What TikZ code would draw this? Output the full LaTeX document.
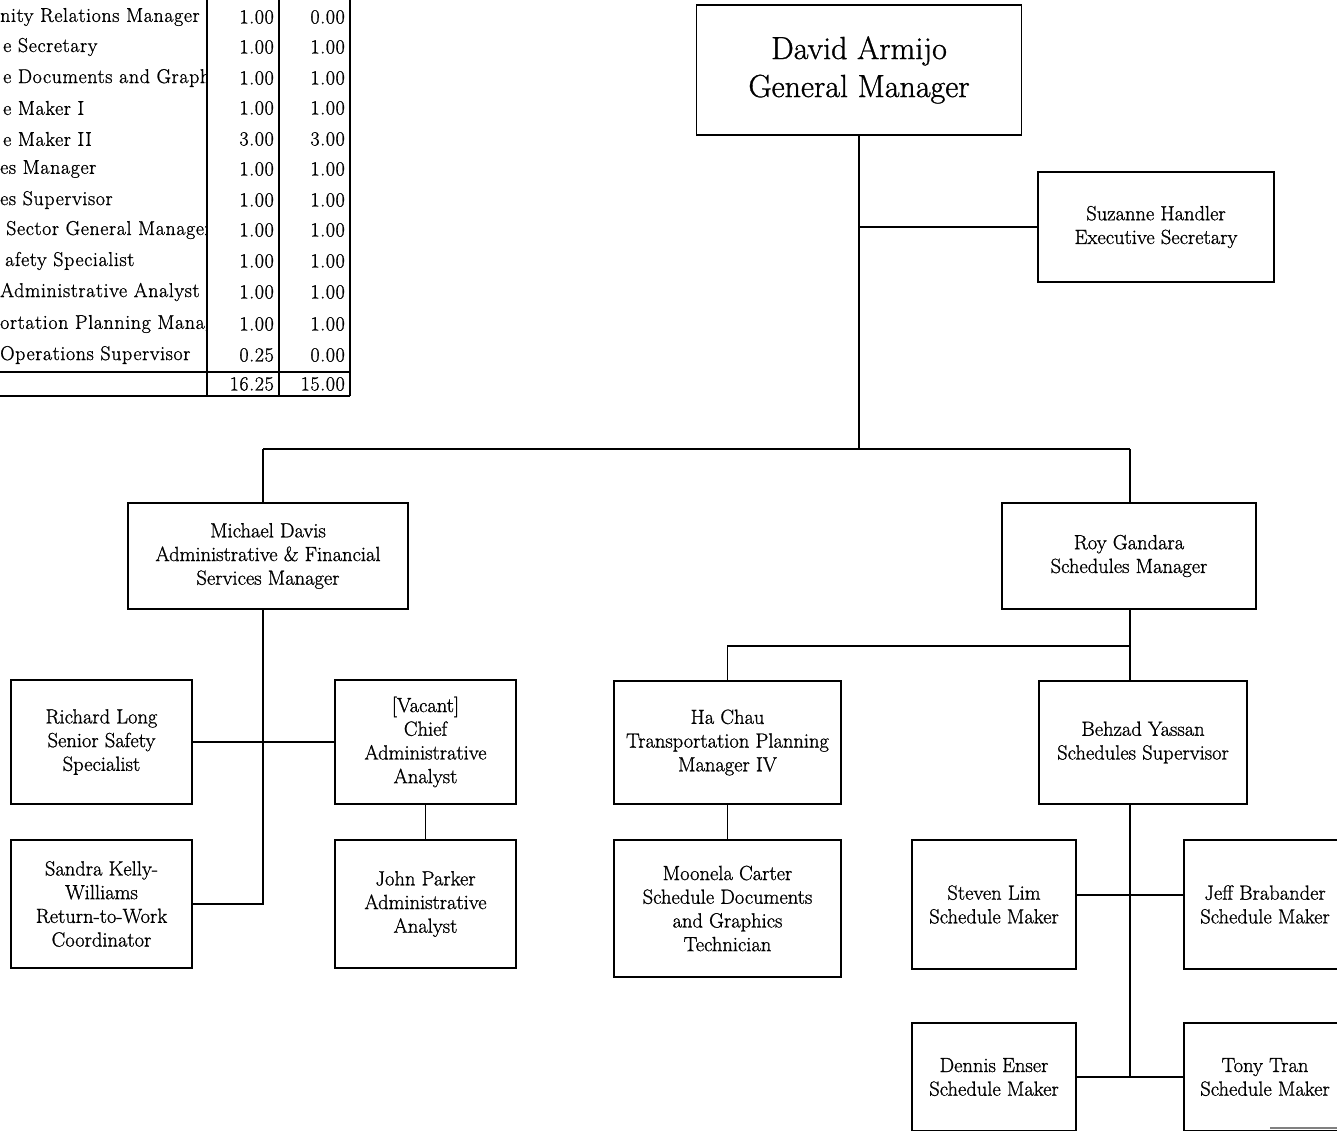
\documentclass[tikz,border=0pt]{standalone}
\usepackage{fontspec}
\setmainfont{Latin Modern Roman}[FakeBold=1]
\newfontfamily\tablefont{Latin Modern Roman}[FakeBold=1,LetterSpace=3]
\begin{document}
\begin{tikzpicture}[x=1pt,y=-1pt,
  ln/.style={line width=1.7pt},
  box/.style={draw,line width=1.7pt,align=center,inner sep=0pt,font=\fontsize{20.5}{23.7}\selectfont},
  tcell/.style={inner sep=0pt,font=\tablefont\fontsize{20}{23}\selectfont},
  big/.style={font=\fontsize{32}{38}\selectfont}]
\path[use as bounding box,clip] (0,0) rectangle (1337,1130);
\fill[white] (0,0) rectangle (1337,1130);

% ---- table ----
\draw[ln] (207,0) -- (207,396);
\draw[ln] (279,0) -- (279,396);
\draw[ln] (350,0) -- (350,396);
\draw[ln] (0,372) -- (350,372);
\draw[ln] (0,396) -- (350,396);
\begin{scope}
\clip (0,0) rectangle (206,372);
\node[tcell,anchor=west] (t1) at (0,17) {nity Relations Manager};
\node[tcell,anchor=west] (t2) at (3,47) {e Secretary};
\node[tcell,anchor=west] (t3) at (3,78) {e Documents and Graphics};
\node[tcell,anchor=west] (t4) at (3,108) {e Maker I};
\node[tcell,anchor=west] (t5) at (3,139) {e Maker II};
\node[tcell,anchor=west] (t6) at (0,169) {es Manager};
\node[tcell,anchor=west] (t7) at (0,200) {es Supervisor};
\node[tcell,anchor=west] (t8) at (6,230) {Sector General Manager};
\node[tcell,anchor=west] (t9) at (5,261) {afety Specialist};
\node[tcell,anchor=west] (t10) at (0,292) {Administrative Analyst};
\node[tcell,anchor=west] (t11) at (0,324) {ortation Planning Manager};
\node[tcell,anchor=west] (t12) at (0,355) {Operations Supervisor};
\end{scope}
\foreach \y/\a/\b [count=\i] in {17/1.00/0.00,47/1.00/1.00,78/1.00/1.00,108/1.00/1.00,139/3.00/3.00,169/1.00/1.00,200/1.00/1.00,230/1.00/1.00,261/1.00/1.00,292/1.00/1.00,324/1.00/1.00,355/0.25/0.00,384/16.25/15.00}{
  \node[tcell,anchor=east] (a\i) at (274,\y) {\a};
  \node[tcell,anchor=east] (b\i) at (345,\y) {\b};
}

% ---- boxes ----
\node[box,big,minimum width=325pt,minimum height=130pt] (gm) at (859,70) {David Armijo\\General Manager};
\node[box,minimum width=236pt,minimum height=110pt] (suz) at (1156,227) {Suzanne Handler\\Executive Secretary};
\node[box,minimum width=280pt,minimum height=106pt] (mich) at (268,556) {Michael Davis\\Administrative \& Financial\\Services Manager};
\node[box,minimum width=254pt,minimum height=106pt] (roy) at (1129,556) {Roy Gandara\\Schedules Manager};
\node[box,minimum width=181pt,minimum height=124pt] (rich) at (101.5,742) {Richard Long\\Senior Safety\\Specialist};
\node[box,minimum width=181pt,minimum height=124pt] (vac) at (425.5,742) {[Vacant]\\Chief\\Administrative\\Analyst};
\node[box,minimum width=181pt,minimum height=128pt] (sandra) at (101.5,904) {Sandra Kelly-\\Williams\\Return-to-Work\\Coordinator};
\node[box,minimum width=181pt,minimum height=128pt] (john) at (425.5,904) {John Parker\\Administrative\\Analyst};
\node[box,minimum width=227pt,minimum height=123pt] (ha) at (727.5,742.5) {Ha Chau\\Transportation Planning\\Manager IV};
\node[box,minimum width=227pt,minimum height=137pt] (moon) at (727.5,908.5) {Moonela Carter\\Schedule Documents\\and Graphics\\Technician};
\node[box,minimum width=208pt,minimum height=123pt] (beh) at (1143,742.5) {Behzad Yassan\\Schedules Supervisor};
\node[box,minimum width=164pt,minimum height=129pt] (steven) at (994,904.5) {Steven Lim\\Schedule Maker};
\node[box,minimum width=162pt,minimum height=129pt] (jeff) at (1265,904.5) {Jeff Brabander\\Schedule Maker};
\node[box,minimum width=164pt,minimum height=108pt] (dennis) at (994,1077) {Dennis Enser\\Schedule Maker};
\node[box,minimum width=162pt,minimum height=108pt] (tony) at (1265,1077) {Tony Tran\\Schedule Maker};

% ---- connectors ----
\coordinate (busL) at (263,449);
\coordinate (busR) at (1130,449);
\coordinate (rbus) at (1130,646);
\coordinate (sl) at (1130,895);
\draw[ln] (gm.south) -- (gm.south |- busL);
\draw[ln] (gm.south |- suz.west) -- (suz.west);
\draw[ln] (busL) -- (busR);
\draw[ln] (busL) -- (busL |- mich.north);
\draw[ln] (busR) -- (busR |- roy.north);
\draw[ln] (busL |- mich.south) -- (busL |- sandra.east) -- (sandra.east);
\draw[ln] (rich.east) -- (vac.west);
\draw[ln] (vac.south) -- (john.north);
\draw[ln] (rbus |- roy.south) -- (rbus |- beh.north);
\draw[ln] (rbus) -- (rbus -| ha.north) -- (ha.north);
\draw[ln] (ha.south) -- (moon.north);
\draw[ln] (rbus |- beh.south) -- (rbus |- dennis.east);
\draw[ln] (sl -| steven.east) -- (sl -| jeff.west);
\draw[ln] (dennis.east) -- (tony.west);
\draw[gray,line width=1.2pt] (1270,1128) -- (1337,1128);
\end{tikzpicture}
\end{document}
